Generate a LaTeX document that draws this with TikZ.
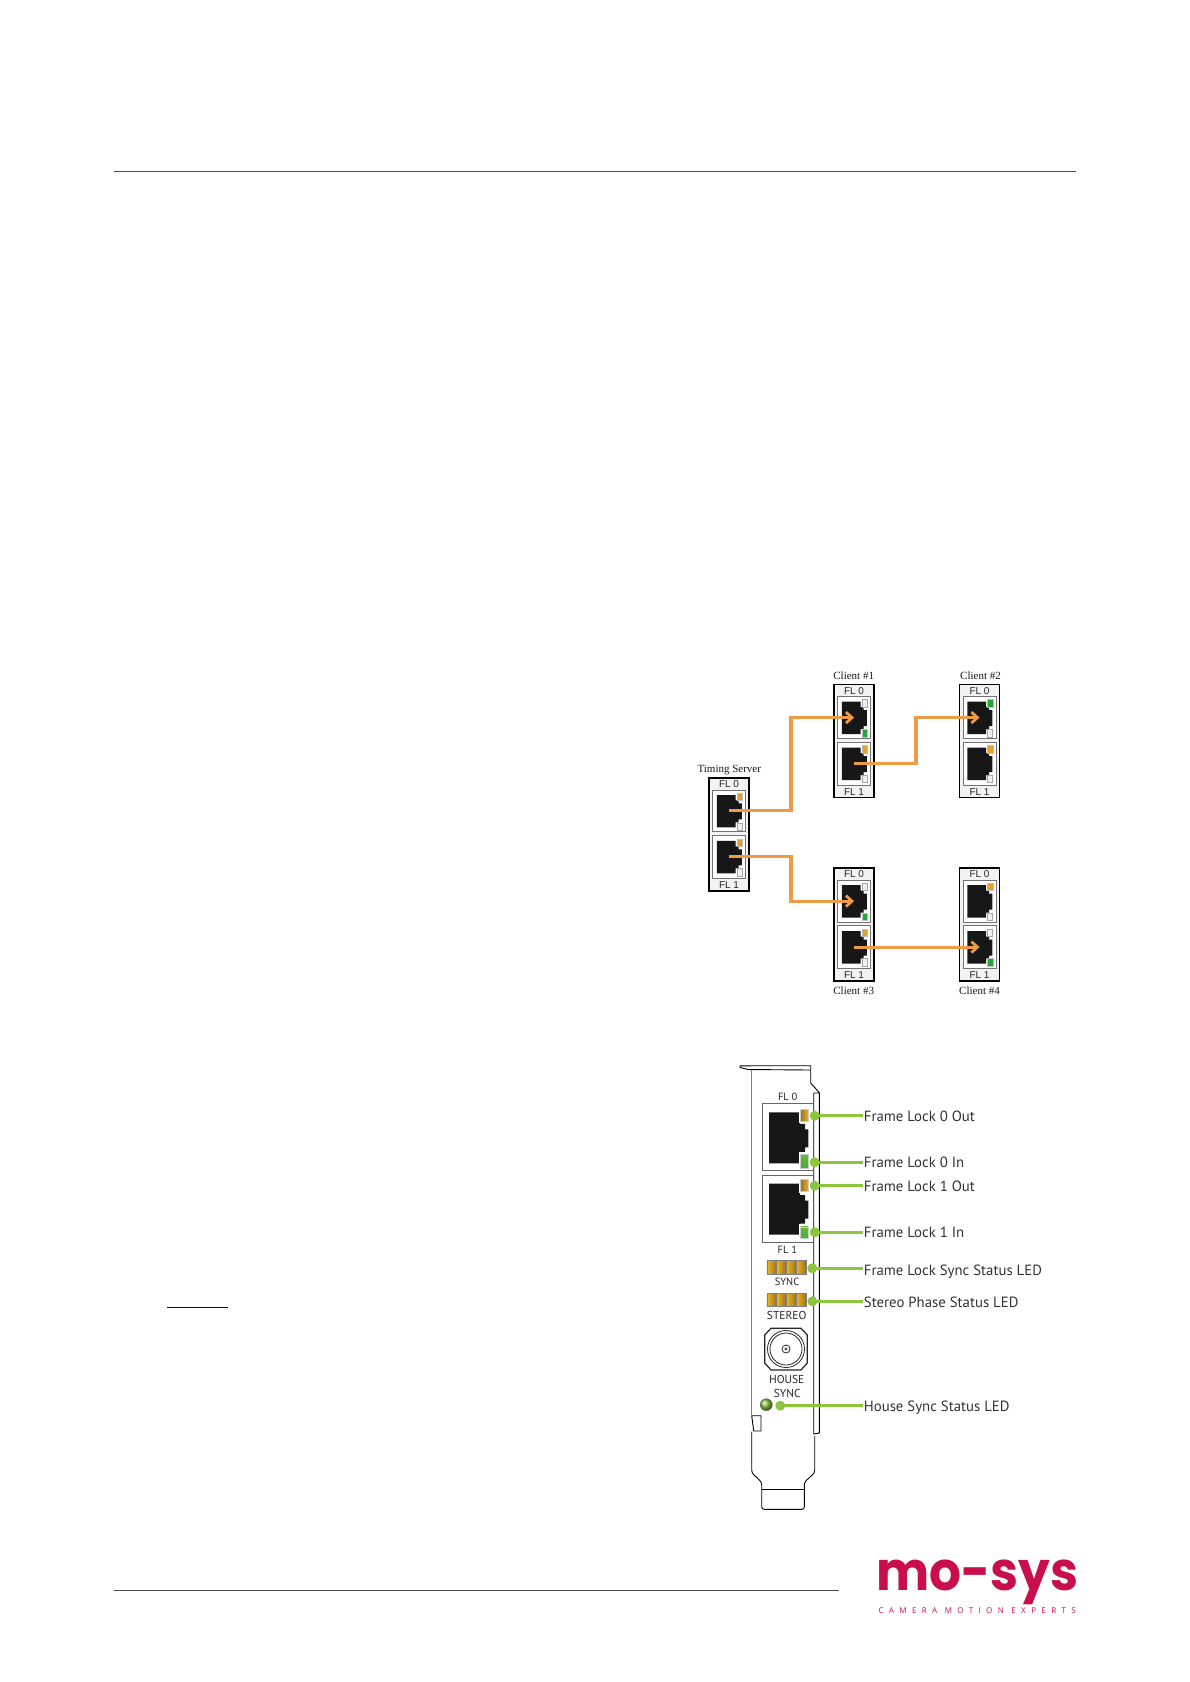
\documentclass[tikz,border=0pt]{standalone}
\usepackage{fontspec}
\setmainfont{Liberation Serif}
\newfontfamily\swfont{Liberation Sans}
\newfontfamily\cardfont{PT Sans}
\newfontfamily\logofont{Poppins}[BoldFont={* Bold}]
\newfontfamily\tagfont{Open Sans}[LetterSpace=67.5]
\usetikzlibrary{arrows.meta,calc}
\definecolor{wireorange}{HTML}{EE9B45}
\definecolor{ledorange}{HTML}{E3A02C}
\definecolor{ledgreen}{HTML}{25A83A}
\definecolor{cardgreen}{HTML}{8CC63F}
\definecolor{logored}{HTML}{C90F4B}
\definecolor{jack}{HTML}{171717}
\tikzset{
  x=1pt,y=-1pt,
  swbox/.style={draw=black,line width=1.8pt,fill=black!5,minimum width=40pt,minimum height=113pt,inner sep=0pt},
  portframe/.style={draw=black!55,fill=white,line width=.6pt},
  jackfill/.style={fill=jack},
  ledO/.style={fill=ledorange,draw=black!25,line width=.4pt},
  ledG/.style={fill=ledgreen,draw=black!25,line width=.4pt},
  ledW/.style={fill=black!6,draw=black!35,line width=.5pt},
  swlabel/.style={font=\fontsize{10}{11}\swfont,text=black!85,inner sep=0pt},
  title/.style={font=\fontsize{11}{12}\selectfont,text=black!90,inner sep=0pt},
  wire/.style={draw=wireorange,line width=3.1pt,-{Straight Barb[length=6pt,width=11pt,line width=2.8pt]}},
  cardline/.style={draw=black,line width=.9pt,line join=round},
  cardtext/.style={font=\fontsize{10.5}{11}\cardfont,text=black!85,inner sep=0pt},
  dot/.style={circle,fill=cardgreen,minimum size=10pt,inner sep=0pt},
  callout/.style={draw=cardgreen,line width=2.7pt},
  lab/.style={anchor=west,font=\fontsize{14.8}{16}\cardfont,text=black!80,inner sep=1pt},
  rule/.style={draw=black!70,line width=.9pt},
  barseg/.style={left color=ledorange!75!yellow,right color=ledorange!70!black,draw=black!50,line width=.6pt},
  cardledO/.style={left color=ledorange!70!black,right color=ledorange!80!yellow,draw=black!20,line width=.4pt},
  cardledG/.style={top color=cardgreen!60!ledgreen,bottom color=ledgreen!70!cardgreen,draw=black!20,line width=.4pt},
}
% switch block: name, x, y, four LEDs
\newcommand{\swblock}[7]{%
  \begin{scope}[shift={(#2,#3)}]
    \node[swbox] (#1) at (20.5,57) {};
    \draw[portframe] (4,12.7) rectangle (37,54.3);
    \draw[portframe] (4,58) rectangle (37,101);
    \fill[jackfill] (8.3,17.7) -- (27,17.7) -- (27,23) -- (30,23) -- (30,26) -- (33.3,26) -- (33.3,42) -- (30,42) -- (30,45) -- (27,45) -- (27,50) -- (8.3,50) -- cycle;
    \fill[jackfill] (8.3,63.5) -- (27,63.5) -- (27,69) -- (30,69) -- (30,72) -- (33.3,72) -- (33.3,88) -- (30,88) -- (30,91) -- (27,91) -- (27,96) -- (8.3,96) -- cycle;
    \draw[led#4] (28.5,15.5) rectangle (33.7,23);
    \draw[led#5] (28.5,45.5) rectangle (33.7,53);
    \draw[led#6] (28.5,61.5) rectangle (33.7,69);
    \draw[led#7] (28.5,91) rectangle (33.7,98.5);
    \node[swlabel] (#1-t) at (20.5,7) {FL 0};
    \node[swlabel] (#1-b) at (20.5,107.7) {FL 1};
    \coordinate (#1-j0) at (20.5,33.6);
    \coordinate (#1-j1) at (20.5,79.6);
  \end{scope}}
\newcommand{\cardjack}[1]{%
  \fill[jackfill,shift={(0,#1)}] (769,0) -- (800,0) -- (800,11.5) -- (805,11.5) -- (805,17) -- (808.3,17) -- (808.3,35) -- (805,35) -- (805,40) -- (800,40) -- (800,51) -- (769,51) -- cycle;}
\newcommand{\cardbar}[1]{%
  \foreach \i in {0,1,2,3}{\draw[barseg,shift={(0,#1)}] ({766.8+\i*9.8},0) rectangle ({776.6+\i*9.8},13.3);}}
\begin{document}
\begin{tikzpicture}
\useasboundingbox[fill=white] (0,0) rectangle (1190,1682);
% page rules and link underline
\coordinate (ruleTopL) at (113.7,171.7);
\coordinate (ruleTopR) at (1076,171.7);
\coordinate (ruleBotL) at (113.7,1590);
\coordinate (ruleBotR) at (839,1590);
\coordinate (linkL) at (167,1307);
\coordinate (linkR) at (228,1307);
\draw[rule] (ruleTopL) -- (ruleTopR);
\draw[rule] (ruleBotL) -- (ruleBotR);
\draw[draw=blue!50!black,line width=1pt] (linkL) -- (linkR);
% frame-lock chain
\swblock{ts}{708.5}{777.3}{O}{W}{O}{W}
\swblock{cA}{833.5}{684}{W}{G}{O}{W}
\swblock{cB}{959}{684}{G}{W}{O}{W}
\swblock{cC}{833.5}{867.5}{W}{G}{O}{W}
\swblock{cD}{959}{867.5}{O}{W}{W}{G}
\node[title] (tTS) at (729.3,770.5) {Timing Server};
\node[title] (tA) at (853.7,675.7) {Client \#1};
\node[title] (tB) at (980.5,675.7) {Client \#2};
\node[title] (tC) at (853.7,990.7) {Client \#3};
\node[title] (tD) at (979.5,990.7) {Client \#4};
\coordinate (busA) at (791,0);
\coordinate (busB) at (916,0);
\draw[wire] (ts-j0) -- (ts-j0 -| busA) -- (busA |- cA-j0) -- (cA-j0);
\draw[wire] (ts-j1) -- (ts-j1 -| busA) -- (busA |- cC-j0) -- (cC-j0);
\draw[wire] (cA-j1) -- (cA-j1 -| busB) -- (busB |- cB-j0) -- (cB-j0);
\draw[wire] (cC-j1) -- (cD-j1);
% card outline
\draw[draw=black!50,line width=.9pt] (751.7,1070) -- (751.7,1415);
\draw[cardline] (740,1067.5) -- (740,1065.8) -- (810.7,1065.7) -- (810.7,1083) -- (819.3,1092.7) -- (819.3,1433) -- (813.7,1434) -- (813.7,1093) -- (819.3,1093);
\draw[cardline] (740,1067.5) -- (748,1069.5) -- (810.7,1070);
\draw[cardline] (751.7,1415.7) -- (753.7,1415.7) -- (761,1415.7) -- (761,1431) -- (753.7,1431) -- cycle;
\draw[cardline,rounded corners=2.5pt] (751.7,1431.5) -- (751.7,1472.7) -- (761.7,1482.3) -- (761.7,1509.3) -- (804.3,1509.3) -- (804.3,1482.3) -- (814.7,1472.7) -- (814.7,1436);
\draw[cardline] (761.7,1489.3) -- (804.3,1489.3);
% ports on card
\draw[draw=black!60,line width=.7pt] (813.7,1103.3) -- (762.3,1103.3) -- (762.3,1170.7) -- (813.7,1170.7);
\draw[draw=black!60,line width=.7pt] (813.7,1175.3) -- (762.3,1175.3) -- (762.3,1242.7) -- (813.7,1242.7);
\cardjack{1112.3}
\cardjack{1183.5}
\fill[white] (799,1107) rectangle (810,1123);
\fill[white] (799,1152) rectangle (810,1169.5);
\fill[white] (799,1177) rectangle (810,1193);
\fill[white] (799,1224) rectangle (810,1240);
\draw[cardledO] (800.5,1109) rectangle (808.3,1121);
\draw[cardledG] (800.5,1154.3) rectangle (808.3,1167.7);
\draw[cardledO] (800.5,1179) rectangle (808.3,1191);
\draw[cardledG] (800.5,1226.7) rectangle (808.3,1238.3);
\node[cardtext] (fl0) at (787.7,1097) {FL 0};
\node[cardtext] (fl1) at (787.3,1249.3) {FL 1};
\cardbar{1260.7}
\node[cardtext] (sync) at (787,1281.7) {SYNC};
\cardbar{1293.3}
\node[cardtext,font=\fontsize{11.5}{12}\cardfont] (stereo) at (786.7,1315) {STEREO};
% BNC connector
\coordinate (bnc) at (786,1349);
\draw[draw=black!85,line width=1.2pt,fill=white] (771,1328.3) -- (801,1328.3) -- (807.3,1335) -- (807.3,1363) -- (801,1370) -- (771,1370) -- (764.7,1363) -- (764.7,1335) -- cycle;
\draw[draw=black!85,line width=.8pt] (bnc) circle (18.5);
\draw[draw=black!85,line width=.8pt] (bnc) circle (16);
\draw[draw=black!85,line width=.8pt] (bnc) circle (4);
\fill[black!70] (bnc) circle (1.6);
\node[cardtext,font=\fontsize{11.5}{12}\cardfont] (house) at (786.7,1379) {HOUSE};
\node[cardtext,font=\fontsize{11.5}{12}\cardfont] (hsync) at (787.3,1393.3) {SYNC};
\node[circle,draw=black!60,line width=.5pt,ball color=cardgreen,minimum size=12pt,inner sep=0pt] (hled) at (766.3,1404.7) {};
% callouts
\node[dot] (d1) at (814.7,1115.7) {};
\node[dot] (d2) at (814.7,1162.3) {};
\node[dot] (d3) at (814.7,1185.7) {};
\node[dot] (d4) at (814.7,1232.3) {};
\node[dot] (d5) at (812.3,1268.3) {};
\node[dot] (d6) at (812.3,1301.3) {};
\node[dot] (d7) at (780.3,1405.7) {};
\node[lab] (l1) at (862.7,1116) {Frame Lock 0 Out};
\node[lab] (l2) at (862.7,1162.8) {Frame Lock 0 In};
\node[lab] (l3) at (862.7,1186) {Frame Lock 1 Out};
\node[lab] (l4) at (862.7,1232) {Frame Lock 1 In};
\node[lab] (l5) at (862.7,1271.5) {Frame Lock Sync Status LED};
\node[lab] (l6) at (862.7,1302.5) {Stereo Phase Status LED};
\node[lab] (l7) at (862.7,1407.5) {House Sync Status LED};
\foreach \n in {1,2,3,4,5,6,7}{\draw[callout] (d\n.center) -- (d\n.center -| l\n.west);}
% logo
\node[anchor=base west,inner sep=0pt,text=logored] (logo) at (876,1590.7) {\scalebox{.93}[1]{\fontsize{54}{54}\logofont\bfseries mo-sys}};
\node[anchor=west,inner sep=0pt,text=logored,font=\fontsize{8}{9}\tagfont] (tag) at (878.3,1610.7) {CAMERA MOTION EXPERTS};
\end{tikzpicture}
\end{document}
